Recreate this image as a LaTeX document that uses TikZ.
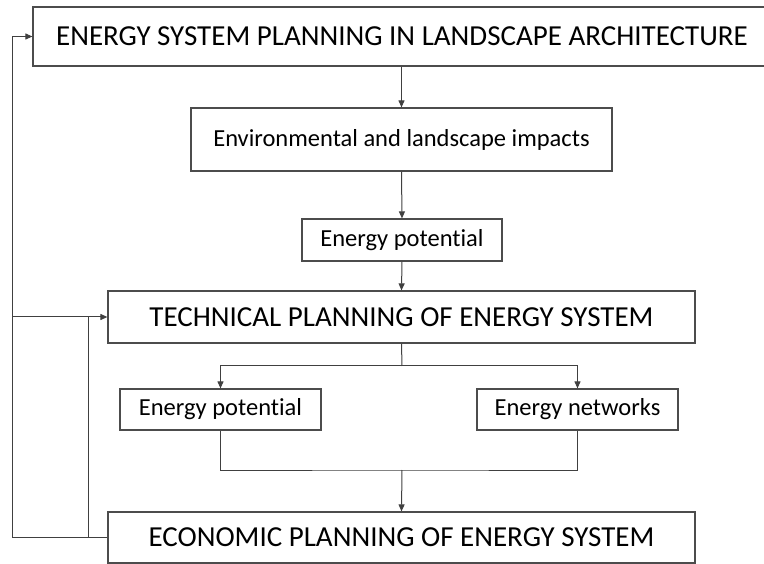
\documentclass[tikz,border=0pt]{standalone}
\usepackage{fontspec}
\setmainfont{Carlito}[Ligatures=NoCommon]
\usetikzlibrary{arrows.meta}

\begin{document}
\begin{tikzpicture}[
	x=1pt, y=-1pt,
	big/.style={
		rectangle,
		draw=black!70,
		line width=1.2pt,
		inner sep=0pt,
		align=center,
		font=\fontsize{29}{34}\selectfont
	},
	small/.style={
		rectangle,
		draw=black!70,
		line width=1.2pt,
		inner sep=0pt,
		align=center,
		font=\fontsize{24.5}{29}\selectfont
	},
	link/.style={line width=1pt, black!75},
	edge/.style={-{Triangle[length=7pt,width=6pt]}, line width=1pt, black!75}
]
\useasboundingbox (0,0) rectangle (764,564);

\node[big, minimum width=738pt, minimum height=59pt] (plan) at (402,36.5) {ENERGY SYSTEM PLANNING IN LANDSCAPE ARCHITECTURE};
\node[small, minimum width=421pt, minimum height=63pt] (impact) at (401.5,139.5) {Environmental and landscape impacts};
\node[small, minimum width=200pt, minimum height=42pt] (potA) at (402,240) {Energy potential};
\node[big, minimum width=587pt, minimum height=52pt] (tech) at (401.5,317) {TECHNICAL PLANNING OF ENERGY SYSTEM};
\node[small, minimum width=201pt, minimum height=41pt] (potB) at (220.5,409.5) {Energy potential};
\node[small, minimum width=201pt, minimum height=41pt] (net) at (577.5,409.5) {Energy networks};
\node[big, minimum width=587pt, minimum height=51pt] (econ) at (401.5,537.5) {ECONOMIC PLANNING OF ENERGY SYSTEM};

\coordinate (split) at (402,366);
\coordinate (merge) at (402,470);
\coordinate (backout) at (12,537.5);
\coordinate (backin) at (88,537.5);

\draw[edge] (impact.north |- plan.south) -- (impact.north);
\draw[edge] (impact.south) -- (potA.north);
\draw[edge] (potA.south) -- (tech.north);
\draw[link] (tech.south) -- (split);
\draw[edge] (split) -| (potB.north);
\draw[edge] (split) -| (net.north);
\draw[link] (potB.south) |- (merge) -| (net.south);
\draw[edge] (merge) -- (econ.north);
\draw[edge] (econ.west) -- (backout) |- (plan.west);
\draw[edge] (backout |- tech.west) -- (tech.west);
\draw[link] (backin) -- (backin |- tech.west);
\end{tikzpicture}
\end{document}
